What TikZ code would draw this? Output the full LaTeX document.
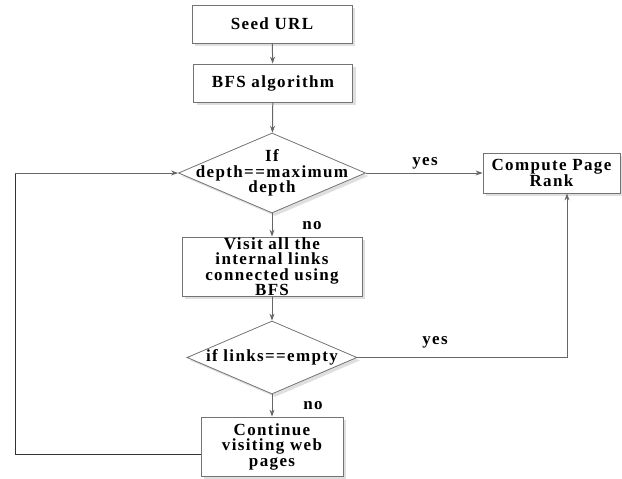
\documentclass[tikz,border=0pt]{standalone}
\usepackage{fontspec}
\newfontfamily\lblfont[LetterSpace=8]{Liberation Serif}
\usetikzlibrary{shapes.geometric,arrows.meta,shadows}
\begin{document}
\begin{tikzpicture}[x=1pt,y=-1pt,
  every node/.style={font=\lblfont\bfseries\fontsize{17}{15.5}\selectfont, text=black},
  shd/.style={drop shadow={opacity=0.25, shadow xshift=3pt, shadow yshift=-3pt}},
  boxnode/.style={draw=black!55, line width=0.8pt, fill=white, rectangle, inner sep=0pt, align=center, shd},
  dianode/.style={draw=black!55, line width=0.8pt, fill=white, diamond, inner sep=0pt, shd},
  txtnode/.style={align=center, inner sep=0pt},
  lbl/.style={inner sep=0pt},
  conn/.style={draw=black!60, line width=1pt, -{Stealth[length=7pt,width=5pt]}},
  loopline/.style={draw=black!80, line width=1pt}
]
\useasboundingbox (0,0) rectangle (622,479);
\node[boxnode, minimum width=160pt, minimum height=38pt] (seed) at (272,24) {Seed URL};
\node[boxnode, minimum width=159pt, minimum height=38pt] (bfs) at (273,83) {BFS algorithm};
\node[dianode, minimum width=187pt, minimum height=80pt] (d1) at (272,173) {};
\node[txtnode] (d1t) at (d1) {If\\depth==maximum\\depth};
\node[boxnode, minimum width=180pt, minimum height=59pt] (visit) at (272,266.5) {Visit all the\\internal links\\connected using\\BFS};
\node[dianode, minimum width=170pt, minimum height=73pt] (d2) at (272,357.5) {};
\node[txtnode] (d2t) at (d2) {if links==empty};
\node[boxnode, minimum width=142pt, minimum height=59pt] (cont) at (272,446.5) {Continue\\visiting web\\pages};
\node[boxnode, minimum width=137pt, minimum height=40pt] (cpr) at (551.5,173) {Compute Page\\Rank};

\node[lbl] (yes1) at (425,163) {yes};
\node[lbl] (no1) at (312,226) {no};
\node[lbl] (yes2) at (435,342) {yes};
\node[lbl] (no2) at (313,406) {no};

\coordinate (lb) at (15,454);
\coordinate (lt) at (15,173);
\coordinate (rc) at (567,357.5);

\draw[conn] (seed) -- (bfs);
\draw[conn] (bfs) -- (d1);
\draw[conn] (d1) -- (visit);
\draw[conn] (visit) -- (d2);
\draw[conn] (d2) -- (cont);
\draw[conn] (d1.east) -- (cpr.west);
\draw[conn] (d2.east) -- (rc) -- (rc |- cpr.south);
\draw[loopline] (cont.west |- lb) -- (lb) -- (lt);
\draw[conn] (lt) -- (d1.west);
\end{tikzpicture}
\end{document}
